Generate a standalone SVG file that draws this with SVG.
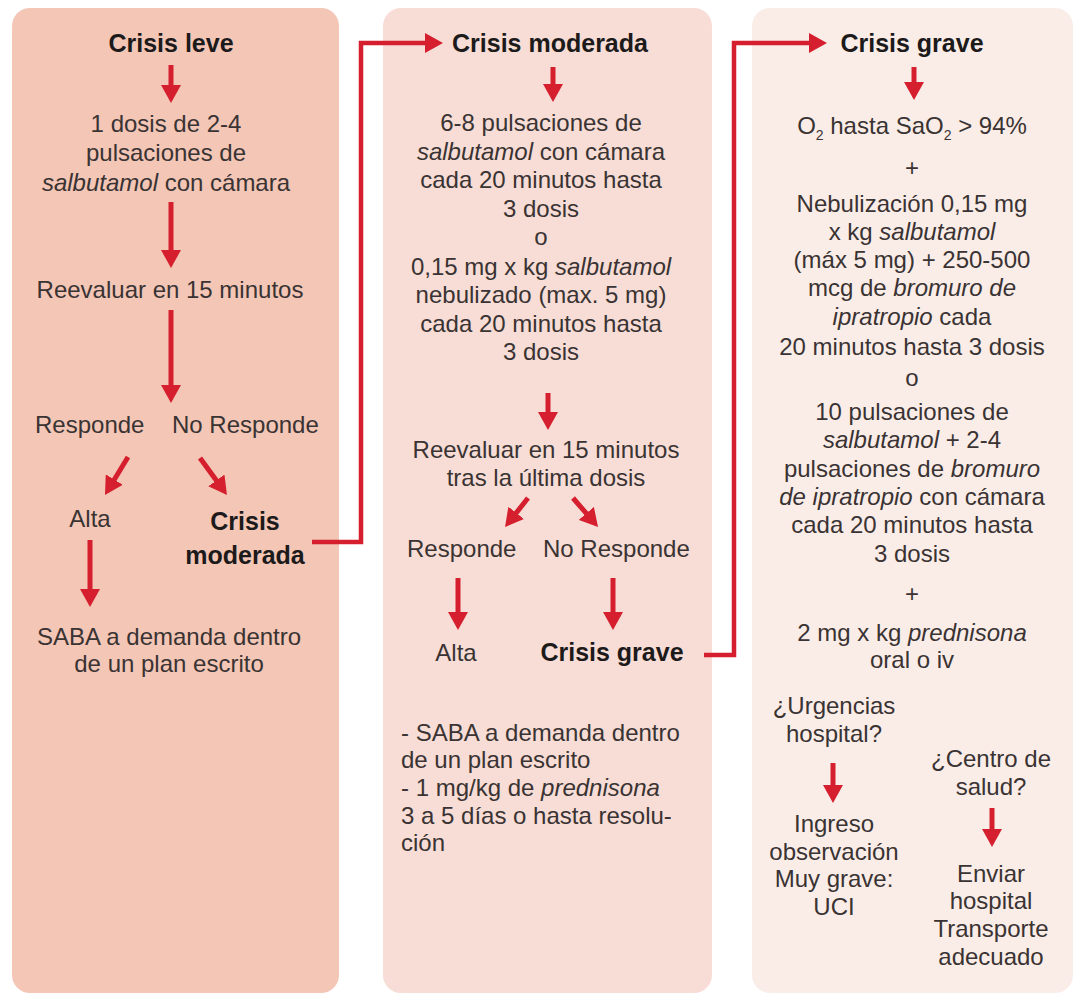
<svg xmlns="http://www.w3.org/2000/svg" width="1082" height="996" viewBox="0 0 1082 996">
<style>
text{font-family:"Liberation Sans",Arial,sans-serif;font-size:24px;fill:#3a3333}
.c{text-anchor:middle}
.b{font-weight:700;font-size:25px;fill:#1c1a1a}
.i{font-style:italic}
.ar{stroke:#d51f2e;stroke-width:5;fill:none}
.cn{stroke:#d51f2e;stroke-width:4.5;fill:none}
</style>
<defs>
<marker id="ah" viewBox="0 0 20 20" markerUnits="userSpaceOnUse" markerWidth="20" markerHeight="20" refX="6" refY="10" orient="auto">
<path d="M0,0 L18,10 L0,20 z" fill="#d51f2e"/>
</marker>
</defs>
<rect x="0" y="0" width="1082" height="996" fill="#ffffff"/>
<g id="panel-leve">
<rect x="12" y="8" width="327" height="985" rx="18" fill="#f3c6b6"/>
<text class="c b" x="171" y="52">Crisis leve</text>
<text class="c" x="166" y="132">1 dosis de 2-4</text>
<text class="c" x="166" y="161">pulsaciones de</text>
<text class="c" x="166" y="191"><tspan class="i">salbutamol</tspan> con cámara</text>
<text class="c" x="170" y="298">Reevaluar en 15 minutos</text>
<text x="35" y="433">Responde</text>
<text x="172" y="433">No Responde</text>
<text class="c" x="90" y="527">Alta</text>
<text class="c b" x="245" y="530">Crisis</text>
<text class="c b" x="245" y="564">moderada</text>
<text class="c" x="169" y="645">SABA a demanda dentro</text>
<text class="c" x="169" y="672">de un plan escrito</text>
</g>
<g id="panel-moderada">
<rect x="383" y="8" width="329" height="985" rx="18" fill="#f7ddd5"/>
<text class="c b" x="550" y="52">Crisis moderada</text>
<text class="c" x="541" y="131">6-8 pulsaciones de</text>
<text class="c" x="541" y="160"><tspan class="i">salbutamol</tspan> con cámara</text>
<text class="c" x="541" y="188">cada 20 minutos hasta</text>
<text class="c" x="541" y="217">3 dosis</text>
<text class="c" x="541" y="245">o</text>
<text class="c" x="541" y="275">0,15 mg x kg <tspan class="i">salbutamol</tspan></text>
<text class="c" x="541" y="303">nebulizado (max. 5 mg)</text>
<text class="c" x="541" y="332">cada 20 minutos hasta</text>
<text class="c" x="541" y="360">3 dosis</text>
<text class="c" x="546" y="458">Reevaluar en 15 minutos</text>
<text class="c" x="546" y="486">tras la última dosis</text>
<text x="407" y="557">Responde</text>
<text x="543" y="557">No Responde</text>
<text class="c" x="456" y="661">Alta</text>
<text class="c b" x="612" y="661">Crisis grave</text>
<text x="401" y="741">- SABA a demanda dentro</text>
<text x="401" y="768">de un plan escrito</text>
<text x="401" y="796">- 1 mg/kg de <tspan class="i">prednisona</tspan></text>
<text x="401" y="824">3 a 5 días o hasta resolu-</text>
<text x="401" y="851">ción</text>
</g>
<g id="panel-grave">
<rect x="752" y="8" width="321" height="985" rx="18" fill="#faede8"/>
<text class="c b" x="912" y="52">Crisis grave</text>
<text class="c" x="912" y="134">O<tspan font-size="14" dy="6">2</tspan><tspan dy="-6"> hasta SaO</tspan><tspan font-size="14" dy="6">2</tspan><tspan dy="-6"> &gt; 94%</tspan></text>
<text class="c" x="912" y="176">+</text>
<text class="c" x="912" y="212">Nebulización 0,15 mg</text>
<text class="c" x="912" y="240">x kg <tspan class="i">salbutamol</tspan></text>
<text class="c" x="912" y="268">(máx 5 mg) + 250-500</text>
<text class="c" x="912" y="296">mcg de <tspan class="i">bromuro de</tspan></text>
<text class="c" x="912" y="325"><tspan class="i">ipratropio</tspan> cada</text>
<text class="c" x="912" y="355">20 minutos hasta 3 dosis</text>
<text class="c" x="912" y="386">o</text>
<text class="c" x="912" y="420">10 pulsaciones de</text>
<text class="c" x="912" y="448"><tspan class="i">salbutamol</tspan> + 2-4</text>
<text class="c" x="912" y="477">pulsaciones de <tspan class="i">bromuro</tspan></text>
<text class="c" x="912" y="505"><tspan class="i">de ipratropio</tspan> con cámara</text>
<text class="c" x="912" y="533">cada 20 minutos hasta</text>
<text class="c" x="912" y="562">3 dosis</text>
<text class="c" x="912" y="602">+</text>
<text class="c" x="912" y="641">2 mg x kg <tspan class="i">prednisona</tspan></text>
<text class="c" x="912" y="668">oral o iv</text>
<text class="c" x="834" y="714">¿Urgencias</text>
<text class="c" x="834" y="742">hospital?</text>
<text class="c" x="834" y="832">Ingreso</text>
<text class="c" x="834" y="860">observación</text>
<text class="c" x="834" y="887">Muy grave:</text>
<text class="c" x="834" y="915">UCI</text>
<text class="c" x="991" y="767">¿Centro de</text>
<text class="c" x="991" y="795">salud?</text>
<text class="c" x="991" y="882">Enviar</text>
<text class="c" x="991" y="909">hospital</text>
<text class="c" x="991" y="937">Transporte</text>
<text class="c" x="991" y="965">adecuado</text>
</g>
<g id="connectors">
<line class="ar" x1="171" y1="65" x2="171" y2="91" marker-end="url(#ah)"/>
<line class="ar" x1="171" y1="202" x2="171" y2="256" marker-end="url(#ah)"/>
<line class="ar" x1="171" y1="310" x2="171" y2="391" marker-end="url(#ah)"/>
<line class="ar" x1="128" y1="457" x2="111.2" y2="484.7" marker-end="url(#ah)"/>
<line class="ar" x1="200" y1="458" x2="219.9" y2="485.3" marker-end="url(#ah)"/>
<line class="ar" x1="90" y1="540" x2="90" y2="595" marker-end="url(#ah)"/>
<path class="cn" d="M312,542 H361 V43 H431" marker-end="url(#ah)"/>
<line class="ar" x1="553" y1="67" x2="553" y2="90" marker-end="url(#ah)"/>
<line class="ar" x1="548" y1="393" x2="548" y2="418" marker-end="url(#ah)"/>
<line class="ar" x1="528" y1="498" x2="512.5" y2="517.6" marker-end="url(#ah)"/>
<line class="ar" x1="573" y1="498" x2="590.2" y2="517.9" marker-end="url(#ah)"/>
<line class="ar" x1="458" y1="578" x2="458" y2="618" marker-end="url(#ah)"/>
<line class="ar" x1="613" y1="578" x2="613" y2="618" marker-end="url(#ah)"/>
<path class="cn" d="M704,655 H734 V43 H815" marker-end="url(#ah)"/>
<line class="ar" x1="914" y1="67" x2="914" y2="88" marker-end="url(#ah)"/>
<line class="ar" x1="833" y1="763" x2="833" y2="791" marker-end="url(#ah)"/>
<line class="ar" x1="992" y1="808" x2="992" y2="835" marker-end="url(#ah)"/>
</g>
</svg>
